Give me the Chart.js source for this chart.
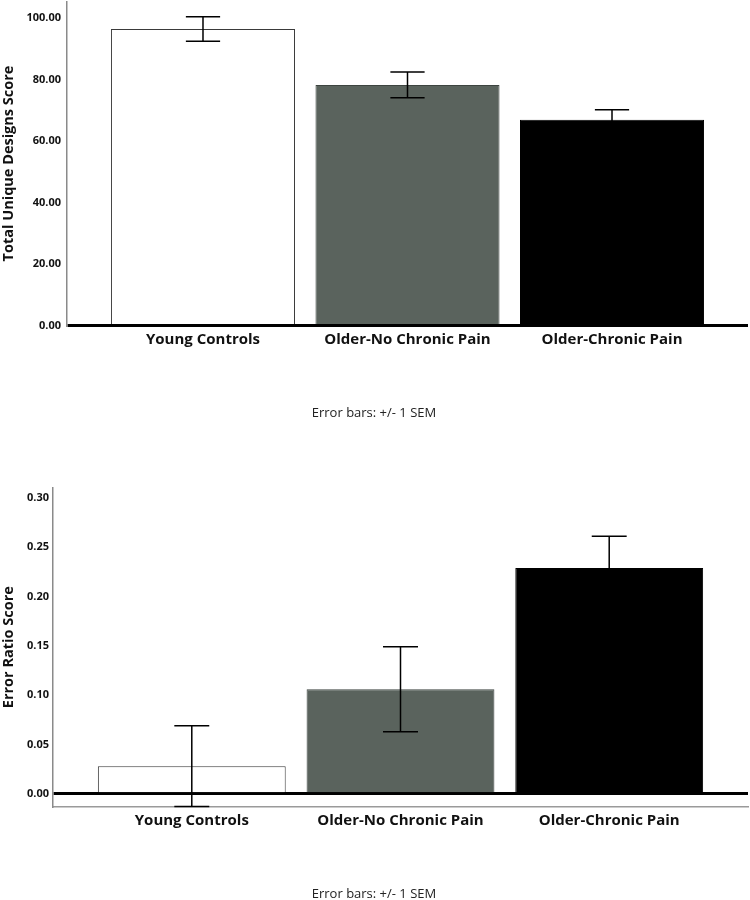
<!DOCTYPE html>
<html>
<head>
<meta charset="utf-8">
<script src="https://cdn.jsdelivr.net/npm/chart.js@4/dist/chart.umd.min.js"></script>
<style>
  html, body { margin: 0; padding: 0; background: #fff; overflow: hidden; }
  #wrap { position: relative; width: 750px; height: 900px; }
  .box { position: absolute; left: 0; width: 750px; }
  #topBox { top: -11px; height: 432px; }
  #bottomBox { top: 470px; height: 432px; }
</style>
</head>
<body>
<div id="wrap">
  <div class="box" id="topBox"><canvas id="designsChart"></canvas></div>
  <div class="box" id="bottomBox"><canvas id="errorChart"></canvas></div>
</div>
<script>
const groups = ["Young Controls", "Older-No Chronic Pain", "Older-Chronic Pain"];
const barColors = ["#ffffff", "#5a635d", "#000000"];
const barBorders = ["#3a3a3a", "#3d4440", "#000000"];

const designsMean = [96.4, 78.2, 66.9];
const designsSem = [4.0, 4.2, 3.2];
const designsTicks = [0, 20, 40, 60, 80, 100];

const errorMean = [0.028, 0.106, 0.229];
const errorSem = [0.041, 0.043, 0.032];
const errorTicks = [0, 0.05, 0.1, 0.15, 0.2, 0.25, 0.3];

const captionText = "Error bars: +/- 1 SEM";

const errorBarPlugin = {
  id: "errorBars",
  afterDatasetsDraw(chart, args, opts) {
    const { ctx, scales } = chart;
    const meta = chart.getDatasetMeta(0);
    ctx.save();
    ctx.strokeStyle = "#000";
    ctx.lineWidth = 1.5;
    meta.data.forEach((bar, i) => {
      const x = scales.x.getPixelForValue(i);
      const hi = scales.y.getPixelForValue(opts.mean[i] + opts.sem[i]);
      const lo = scales.y.getPixelForValue(opts.mean[i] - opts.sem[i]);
      const half = bar.width * 0.093;
      ctx.beginPath();
      ctx.moveTo(x, hi);
      ctx.lineTo(x, lo);
      ctx.moveTo(x - half, hi);
      ctx.lineTo(x + half, hi);
      ctx.moveTo(x - half, lo);
      ctx.lineTo(x + half, lo);
      ctx.stroke();
    });
    ctx.restore();
  },
};

function makeChart(canvasId, cfg) {
  const canvas = document.getElementById(canvasId);
  if (!canvas) {
    console.error(`Canvas element with id "${canvasId}" not found.`);
    return;
  }
  new Chart(canvas, {
    type: "bar",
    data: {
      datasets: [
        {
          data: cfg.mean.map((v, i) => ({ x: i, y: v })),
          backgroundColor: barColors,
          borderColor: barBorders,
          borderWidth: 1,
          barPercentage: 0.9,
          categoryPercentage: 1,
        },
      ],
    },
    plugins: [errorBarPlugin],
    options: {
      responsive: true,
      maintainAspectRatio: false,
      animation: false,
      layout: { padding: { top: cfg.padTop, right: 2, left: 0, bottom: 0 } },
      plugins: {
        legend: { display: false },
        tooltip: { enabled: false },
        title: {
          display: true,
          position: "bottom",
          text: captionText,
          color: "#222",
          font: { family: "Open Sans", size: 13, weight: "normal" },
          padding: 0,
        },
        errorBars: { mean: cfg.mean, sem: cfg.sem },
      },
      scales: {
        x: {
          type: "linear",
          offset: false,
          min: -0.665,
          max: 2.665,
          afterBuildTicks: (scale) => {
            scale.ticks = groups.map((g, i) => ({ value: i }));
          },
          afterFit: (scale) => {
            scale.height = 80;
          },
          grid: { display: false, drawTicks: false },
          border: cfg.xBorder,
          ticks: {
            padding: 5,
            color: "#111",
            font: { family: "Open Sans", size: 15, weight: "bold" },
            callback: (v) => groups[v],
            maxRotation: 0,
          },
        },
        y: {
          min: cfg.yMin,
          max: cfg.yMax,
          afterBuildTicks: (scale) => {
            scale.ticks = cfg.ticks.map((v) => ({ value: v }));
          },
          afterFit: (scale) => {
            scale.width = cfg.yWidth;
          },
          grid: {
            drawTicks: false,
            color: (c) => (c.tick && c.tick.value === 0 ? "#000" : "rgba(0,0,0,0)"),
            lineWidth: (c) => (c.tick && c.tick.value === 0 ? 3 : 0),
          },
          border: { color: "#8a8a8a", width: 1.5 },
          ticks: {
            padding: cfg.tickPad,
            color: "#111",
            font: { family: "Open Sans", size: 11, weight: "bold" },
            callback: (v) => v.toFixed(2),
          },
          title: {
            display: true,
            text: cfg.title,
            color: "#111",
            font: { family: "Open Sans", size: 14.5, weight: "bold" },
            padding: 0,
          },
        },
      },
    },
  });
}

makeChart("designsChart", {
  mean: designsMean,
  sem: designsSem,
  ticks: designsTicks,
  yMin: 0,
  yMax: 105.3,
  yWidth: 67,
  tickPad: 6,
  padTop: 0,
  title: "Total Unique Designs Score",
  xBorder: { display: false },
});

makeChart("errorChart", {
  mean: errorMean,
  sem: errorSem,
  ticks: errorTicks,
  yMin: -0.0128,
  yMax: 0.31,
  yWidth: 53,
  tickPad: 4,
  padTop: 18,
  title: "Error Ratio Score",
  xBorder: { display: true, color: "#9a9a9a", width: 1.5 },
});
</script>
</body>
</html>
